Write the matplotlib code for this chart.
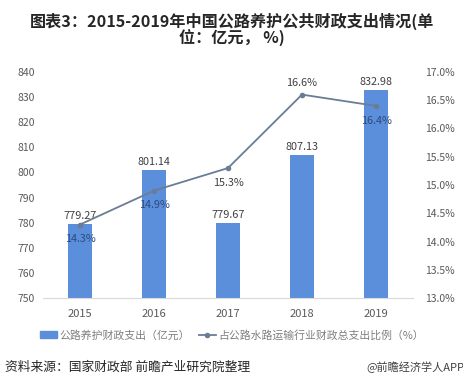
import matplotlib.pyplot as plt
from matplotlib.lines import Line2D
from matplotlib.patches import Patch

plt.rcParams['font.family'] = ['Noto Sans CJK SC', 'DejaVu Sans']

# 数据
years = ["2015", "2016", "2017", "2018", "2019"]
spend = [779.27, 801.14, 779.67, 807.13, 832.98]
ratio = [14.3, 14.9, 15.3, 16.6, 16.4]
ratio_below = [True, True, True, False, True]

bar_color = "#5b8fdc"
line_color = "#6b7c95"
tick_color = "#595959"

fig = plt.figure(figsize=(4.64, 3.84), dpi=100)
ax = fig.add_axes([43 / 464, 1 - 298 / 384, 370 / 464, 226 / 384])
x = list(range(len(years)))

ax.bar(x, spend, width=0.32, color=bar_color, zorder=2)
ax.set_ylim(750, 840)
ax.set_xlim(-0.5, 4.5)
ax.set_yticks(range(750, 841, 10))
ax.set_xticks(x)
ax.set_xticklabels(years)
for s in ["top", "left", "right"]:
    ax.spines[s].set_visible(False)
ax.spines["bottom"].set_color("#d9d9d9")
ax.tick_params(length=0, labelsize=7.5, colors=tick_color)
ax.tick_params(axis="x", labelsize=8, pad=8)
ax.tick_params(axis="y", pad=6)

for i, v in enumerate(spend):
    ax.text(i, v + 1.2, f"{v:.2f}", ha="center", va="bottom", fontsize=7.8, color="#404040")

ax2 = ax.twinx()
ax2.plot(x, ratio, color=line_color, lw=1.3, marker="o", ms=3, zorder=3)
ax2.set_ylim(13.0, 17.0)
ax2.set_yticks([13 + 0.5 * k for k in range(9)])
ax2.set_yticklabels([f"{13 + 0.5 * k:.1f}%" for k in range(9)])
for s in ["top", "left", "right", "bottom"]:
    ax2.spines[s].set_visible(False)
ax2.tick_params(length=0, labelsize=7.5, colors=tick_color, pad=9)

for i, v in enumerate(ratio):
    on_bar = i in (0, 1, 4)
    col = "#2e4a7d" if on_bar else "#404040"
    if ratio_below[i]:
        ax2.text(i, v - 0.17, f"{v}%", ha="center", va="top", fontsize=7.8, color=col)
    else:
        ax2.text(i, v + 0.12, f"{v}%", ha="center", va="bottom", fontsize=7.8, color=col)

fig.text(0.5, 1 - 21 / 384, "图表3：2015-2019年中国公路养护公共财政支出情况(单", ha="center",
         va="center", fontsize=11.6, fontweight="bold", color="#262626")
fig.text(0.5, 1 - 38 / 384, "位：亿元， %)", ha="center", va="center", fontsize=11.6,
         fontweight="bold", color="#262626")

handles = [Patch(color=bar_color), Line2D([0], [0], color=line_color, marker="o", ms=3, lw=1.3)]
labels = ["公路养护财政支出（亿元）", "占公路水路运输行业财政总支出比例（%）"]
fig.legend(handles, labels, loc="center", bbox_to_anchor=(0.5, 1 - 335 / 384), ncol=2,
           frameon=False, fontsize=7.8, labelcolor="#7f7f7f", handlelength=1.6,
           handletextpad=0.2, columnspacing=0.8)

fig.text(5 / 464, 1 - 367 / 384, "资料来源：国家财政部 前瞻产业研究院整理", ha="left", va="center",
         fontsize=9.2, color="#262626")
fig.text(1.0, 1 - 367 / 384, "@前瞻经济学人APP", ha="right", va="center",
         fontsize=8, color="#404040")

fig.savefig("out.png", dpi=100)
